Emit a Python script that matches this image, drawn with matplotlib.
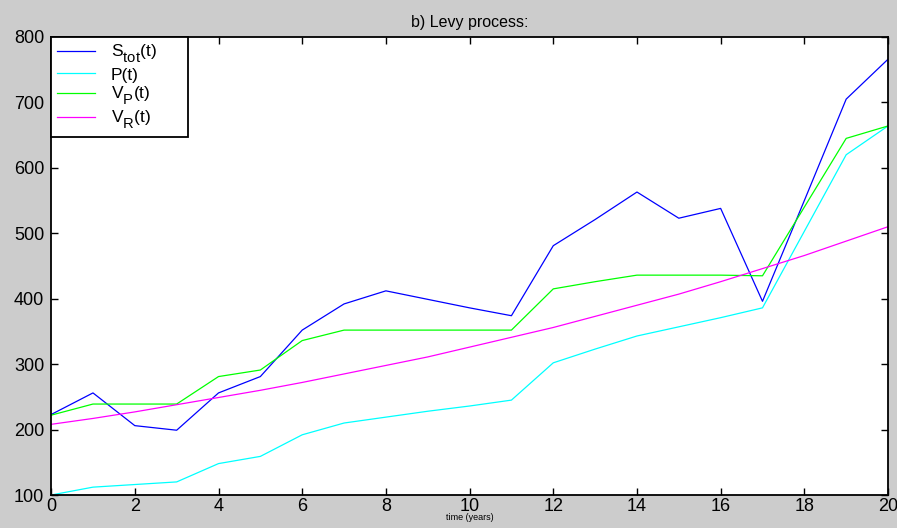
import matplotlib.pyplot as plt
import matplotlib._mathtext as mathtext_internals

plt.rcParams['font.family'] = ['Liberation Sans', 'DejaVu Sans']
plt.rcParams['mathtext.fontset'] = 'custom'
plt.rcParams['mathtext.rm'] = 'Liberation Sans'
plt.rcParams['mathtext.it'] = 'Liberation Sans'
# larger, lower subscripts in the legend labels
mathtext_internals.SHRINK_FACTOR = 0.85
mathtext_internals.FontConstantsBase.sub1 = 0.7
mathtext_internals.FontConstantsBase.subdrop = 0.6

# time axis (years)
t = list(range(21))

s_tot = [223, 256, 206, 199, 256, 281, 352, 392, 412, 399, 386, 374,
         481, 521, 563, 523, 538, 396, 550, 705, 766]
p_t = [100, 112, 116, 120, 148, 159, 192, 210, 219, 228, 236, 245,
       302, 323, 343, 357, 371, 386, 503, 620, 664]
v_p = [222, 239, 239, 239, 281, 291, 336, 352, 352, 352, 352, 352,
       415, 426, 436, 436, 436, 435, 540, 645, 664]
v_r = [208, 217, 227, 238, 249, 260, 272, 285, 298, 311, 326, 341,
       356, 373, 390, 407, 426, 446, 466, 488, 510]

fig = plt.figure(figsize=(8.97, 5.28), dpi=100, facecolor='#cccccc')
ax = fig.add_axes([0.057, 0.0625, 0.933, 0.8675])
ax.set_facecolor('white')

ax.plot(t, s_tot, color='#0000ff', lw=0.9, label=r'S$_{\rm tot}$(t)')
ax.plot(t, p_t, color='#00ffff', lw=0.9, label='P(t)')
ax.plot(t, v_p, color='#00ff00', lw=0.9, label=r'V$_{\rm P}$(t)')
ax.plot(t, v_r, color='#ff00ff', lw=0.9, label=r'V$_{\rm R}$(t)')

ax.set_xlim(0, 20)
ax.set_ylim(100, 800)
ax.set_xticks(range(0, 21, 2))
ax.set_yticks(range(100, 801, 100))
ax.tick_params(direction='in', top=True, right=True, length=5, width=1,
               labelsize=13)
ax.tick_params(axis='x', pad=2)
ax.tick_params(axis='y', pad=5)
for sp in ax.spines.values():
    sp.set_linewidth(1.3)

ax.set_title('b) Levy process:', fontsize=11.5, pad=7)
ax.set_xlabel('time (years)', fontsize=6.5, labelpad=-1)

leg = ax.legend(loc='upper left', bbox_to_anchor=(0, 1, 0.164, 0),
                mode='expand', fontsize=12.5, handlelength=2.2,
                handletextpad=0.9, labelspacing=0.12, borderaxespad=0,
                fancybox=False, framealpha=1, edgecolor='black',
                borderpad=0.35)
leg.get_frame().set_linewidth(1.3)

fig.savefig('out.png', dpi=100, facecolor=fig.get_facecolor())
